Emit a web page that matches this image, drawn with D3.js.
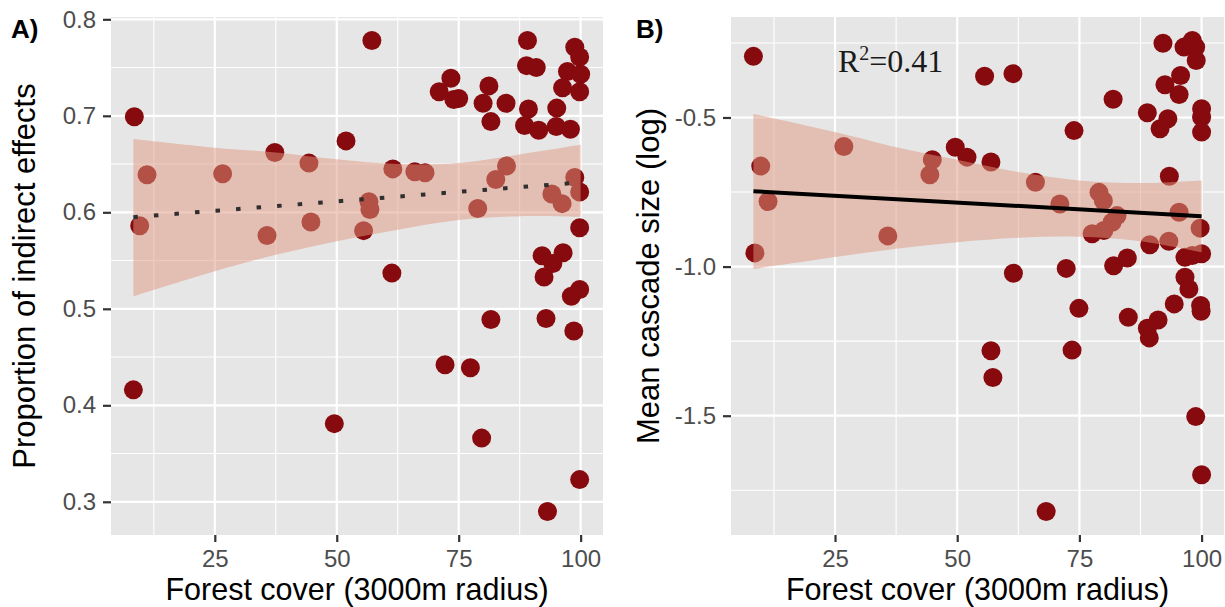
<!DOCTYPE html>
<html>
<head>
<meta charset="utf-8">
<script src="https://cdnjs.cloudflare.com/ajax/libs/d3/7.8.5/d3.min.js"></script>
<style>
  body { margin: 0; background: #fff; }
  text { font-family: "Liberation Sans", Arial, sans-serif; }
</style>
</head>
<body>
<svg id="chart" width="1225" height="607"></svg>
<script>
// ---- panel A: proportion of indirect effects ----
const forestA = [8.5, 11.1, 9.6, 8.3, 26.6, 37.3, 35.7, 44.3, 44.7, 51.9, 57.2, 56.6, 56.8, 55.5, 61.3, 61.5,
  49.5, 66.0, 68.1, 73.4, 71.0, 74.0, 75.0, 81.2, 80.0, 84.7, 81.6, 89.1, 88.9, 90.9, 89.3, 88.5, 91.4,
  95.1, 95.0, 97.9, 98.8, 99.8, 97.3, 100, 96.3, 99.8, 84.8, 82.6, 78.9, 98.8, 99.8, 94.1, 96.2, 99.8,
  92.1, 96.4, 94.3, 92.5, 99.8, 98.1, 81.6, 92.9, 98.6, 72.2, 77.4, 79.7, 99.8, 93.2];
const indirect = [0.699, 0.639, 0.586, 0.416, 0.640, 0.662, 0.576, 0.651, 0.590, 0.674, 0.778, 0.611, 0.603,
  0.581, 0.537, 0.645, 0.381, 0.642, 0.641, 0.739, 0.725, 0.717, 0.718, 0.731, 0.713, 0.713, 0.694, 0.778,
  0.752, 0.750, 0.707, 0.690, 0.685, 0.708, 0.689, 0.686, 0.771, 0.761, 0.746, 0.743, 0.729, 0.725, 0.648,
  0.634, 0.604, 0.636, 0.621, 0.619, 0.609, 0.584, 0.555, 0.558, 0.547, 0.533, 0.520, 0.513, 0.489, 0.490,
  0.477, 0.442, 0.439, 0.366, 0.323, 0.290];

// ---- panel B: mean cascade size (log) ----
const forestB = [8.3, 9.8, 11.3, 8.6, 26.8, 35.8, 44.9, 44.4, 49.6, 52.0, 56.9, 55.6, 61.4, 61.5, 66.0, 71.0,
  73.9, 72.3, 81.9, 79.0, 79.9, 82.7, 81.7, 80.0, 77.6, 82.0, 84.8, 89.4, 93.3, 93.4, 95.4, 99.7, 96.6, 100,
  98.1, 92.1, 96.4, 98.1, 98.8, 98.9, 95.7, 92.5, 95.4, 88.9, 93.1, 91.5, 100, 100, 100, 96.6, 97.4, 94.4,
  99.8, 99.9, 74.9, 85.0, 91.1, 88.9, 89.3, 73.5, 98.8, 100, 68.2, 56.9, 57.3];
const cascade = [-0.295, -0.663, -0.782, -0.954, -0.597, -0.897, -0.642, -0.692, -0.600, -0.633, -0.649,
  -0.362, -0.353, -1.022, -0.717, -0.790, -0.544, -1.006, -0.439, -0.751, -0.779, -0.829, -0.851, -0.879,
  -0.890, -0.997, -0.971, -0.927, -0.915, -0.697, -0.818, -0.871, -0.969, -0.957, -0.963, -0.251, -0.264,
  -0.242, -0.264, -0.309, -0.359, -0.390, -0.423, -0.484, -0.504, -0.538, -0.471, -0.499, -0.549, -1.036,
  -1.075, -1.125, -1.130, -1.150, -1.140, -1.170, -1.179, -1.207, -1.239, -1.280, -1.503, -1.698, -1.821,
  -1.282, -1.372];

// fitted lines and confidence bands
const fitX = [8.3, 100];
const fitA = [0.595, 0.631];
const fitB = [-0.747, -0.831];
const bandX = [8.3, 25, 37.5, 50, 62.5, 75, 87.5, 100];
const bandAhi = [0.676, 0.667, 0.662, 0.655, 0.650, 0.651, 0.660, 0.670];
const bandAlo = [0.513, 0.539, 0.556, 0.570, 0.582, 0.592, 0.596, 0.595];
const bandBhi = [-0.488, -0.549, -0.600, -0.642, -0.683, -0.711, -0.720, -0.711];
const bandBlo = [-1.008, -0.968, -0.940, -0.918, -0.903, -0.900, -0.915, -0.952];

const xTicks = [25, 50, 75, 100];
const xMinor = [12.5, 37.5, 62.5, 87.5];
const yTicksA = [0.3, 0.4, 0.5, 0.6, 0.7, 0.8];
const yMinorA = [0.35, 0.45, 0.55, 0.65, 0.75];
const yTicksB = [-1.5, -1.0, -0.5];
const yMinorB = [-1.75, -1.25, -0.75, -0.25];

const svg = d3.select("#chart");

// ggplot style 5% expansion
function expand(ext) {
  const pad = (ext[1] - ext[0]) * 0.05;
  return [ext[0] - pad, ext[1] + pad];
}

function drawPanel(o) {
  const x = d3.scaleLinear().domain(expand(d3.extent(o.xs))).range([o.left, o.right]);
  const y = d3.scaleLinear().domain(expand(d3.extent(o.ys))).range([o.bottom, o.top]);
  const g = svg.append("g");

  g.append("rect")
    .attr("x", o.left).attr("y", o.top)
    .attr("width", o.right - o.left).attr("height", o.bottom - o.top)
    .attr("fill", "#e6e6e6");

  // grid
  g.selectAll(".vminor").data(xMinor).enter().append("line")
    .attr("x1", d => x(d)).attr("x2", d => x(d)).attr("y1", o.top).attr("y2", o.bottom)
    .attr("stroke", "#fff").attr("stroke-width", 1.1);
  g.selectAll(".hminor").data(o.yMinor).enter().append("line")
    .attr("y1", d => y(d)).attr("y2", d => y(d)).attr("x1", o.left).attr("x2", o.right)
    .attr("stroke", "#fff").attr("stroke-width", 1.1);
  g.selectAll(".vmajor").data(xTicks).enter().append("line")
    .attr("x1", d => x(d)).attr("x2", d => x(d)).attr("y1", o.top).attr("y2", o.bottom)
    .attr("stroke", "#fff").attr("stroke-width", 2.2);
  g.selectAll(".hmajor").data(o.yTicks).enter().append("line")
    .attr("y1", d => y(d)).attr("y2", d => y(d)).attr("x1", o.left).attr("x2", o.right)
    .attr("stroke", "#fff").attr("stroke-width", 2.2);

  // points
  g.selectAll(".pt").data(o.xs).enter().append("circle")
    .attr("cx", d => x(d))
    .attr("cy", (d, i) => y(o.ys[i]))
    .attr("r", 9.5)
    .attr("fill", "#870a0e");

  // confidence band
  const area = d3.area()
    .x(d => x(d[0])).y0(d => y(d[1])).y1(d => y(d[2]))
    .curve(d3.curveCatmullRom);
  g.append("path")
    .datum(bandX.map((v, i) => [v, o.lo[i], o.hi[i]]))
    .attr("d", area)
    .attr("fill", "#e0987f")
    .attr("fill-opacity", 0.5);

  // fit line
  const line = d3.line().x(d => x(d[0])).y(d => y(d[1]));
  g.append("path")
    .datum(fitX.map((v, i) => [v, o.fit[i]]))
    .attr("d", line)
    .attr("fill", "none")
    .attr("stroke", o.dotted ? "#2f2f2f" : "#000")
    .attr("stroke-width", 4)
    .attr("stroke-dasharray", o.dotted ? "4.5,16.1" : null);

  // axes
  const ax = g.append("g")
    .attr("transform", `translate(0,${o.bottom})`)
    .call(d3.axisBottom(x).tickValues(xTicks).tickSize(7).tickPadding(8));
  const ay = g.append("g")
    .attr("transform", `translate(${o.left},0)`)
    .call(d3.axisLeft(y).tickValues(o.yTicks).tickSize(8).tickPadding(7).tickFormat(d => d.toFixed(1)));
  [ax, ay].forEach(a => {
    a.select(".domain").remove();
    a.selectAll(".tick line").attr("stroke", "#333").attr("stroke-width", 2.2);
    a.selectAll(".tick text").attr("fill", "#4d4d4d").style("font-size", "24px");
  });

  // titles
  g.append("text")
    .attr("x", (o.left + o.right) / 2).attr("y", 600)
    .attr("text-anchor", "middle")
    .style("font-size", "30.5px").attr("fill", "#000")
    .text("Forest cover (3000m radius)");
  g.append("text")
    .attr("transform", `translate(${o.titleX},${(o.top + o.bottom) / 2}) rotate(-90)`)
    .attr("text-anchor", "middle")
    .style("font-size", "31px").attr("fill", "#000")
    .text(o.yTitle);
  g.append("text")
    .attr("x", o.tagX).attr("y", 38)
    .style("font-size", "26px").style("font-weight", "bold")
    .text(o.tag);

  return { x, y, g };
}

drawPanel({
  xs: forestA, ys: indirect, left: 111, right: 603, top: 17, bottom: 535,
  yTicks: yTicksA, yMinor: yMinorA, lo: bandAlo, hi: bandAhi, fit: fitA, dotted: true,
  yTitle: "Proportion of indirect effects", titleX: 35, tag: "A)", tagX: 11
});

const pB = drawPanel({
  xs: forestB, ys: cascade, left: 731, right: 1224, top: 17, bottom: 535,
  yTicks: yTicksB, yMinor: yMinorB, lo: bandBlo, hi: bandBhi, fit: fitB, dotted: false,
  yTitle: "Mean cascade size (log)", titleX: 659, tag: "B)", tagX: 636
});

// R squared annotation
const r2 = pB.g.append("text")
  .attr("x", pB.x(25.6)).attr("y", pB.y(-0.347))
  .style("font-family", "'Liberation Serif', 'Times New Roman', serif")
  .style("font-size", "32px").attr("fill", "#1a1a1a");
r2.append("tspan").text("R");
r2.append("tspan").attr("dy", -12).style("font-size", "20px").text("2");
r2.append("tspan").attr("dy", 12).text("=0.41");
</script>
</body>
</html>
